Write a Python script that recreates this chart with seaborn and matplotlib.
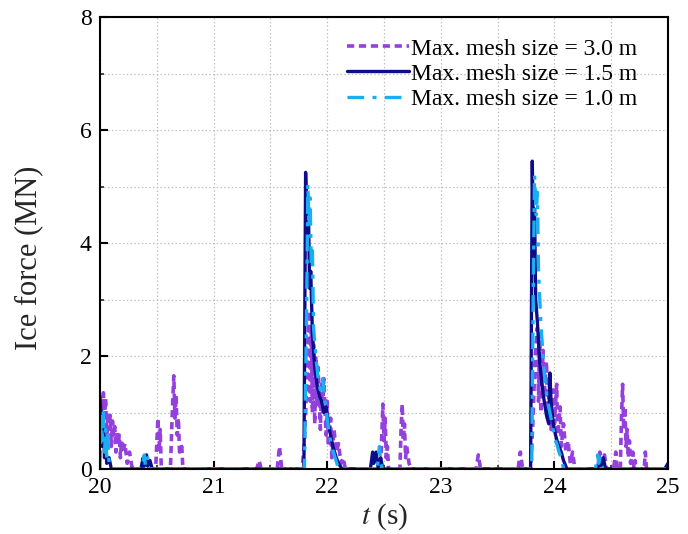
import numpy as np
import pandas as pd
import matplotlib
matplotlib.use("Agg")
import matplotlib.pyplot as plt
import seaborn as sns
from matplotlib.ticker import MultipleLocator

# ---- data ----
t_30 = [20.00, 20.01, 20.02, 20.03, 20.04, 20.05, 20.06, 20.07, 20.08, 20.09, 20.10, 20.11, 20.12, 20.13,
        20.14, 20.15, 20.16, 20.17, 20.18, 20.19, 20.20, 20.22, 20.24, 20.26, 20.28, 20.30,
        20.49, 20.51, 20.52, 20.53, 20.54, 20.62, 20.64, 20.65, 20.66, 20.67, 20.68, 20.69, 20.70, 20.72, 20.73,
        21.38, 21.40, 21.42, 21.56, 21.58, 21.60,
        21.78, 21.80, 21.82, 21.84, 21.85, 21.86, 21.87, 21.88, 21.89, 21.90, 21.91, 21.92, 21.94, 21.95,
        21.96, 21.97, 21.99, 22.00, 22.01, 22.03, 22.04, 22.06, 22.08, 22.10, 22.12, 22.14, 22.16,
        22.47, 22.48, 22.49, 22.50, 22.51, 22.52, 22.53, 22.54, 22.64, 22.65, 22.66, 22.67, 22.68, 22.69,
        22.70, 22.72, 22.74,
        23.31, 23.33, 23.35, 23.68, 23.70, 23.72,
        23.79, 23.81, 23.83, 23.85, 23.86, 23.87, 23.88, 23.90, 23.91, 23.93, 23.94, 23.96, 23.97, 23.99,
        24.00, 24.02, 24.03, 24.05, 24.06, 24.08, 24.10, 24.12, 24.14, 24.16, 24.18,
        24.38, 24.40, 24.42, 24.44, 24.46, 24.52, 24.54, 24.55, 24.58, 24.59, 24.60, 24.61, 24.62, 24.63,
        24.64, 24.65, 24.66, 24.67, 24.69, 24.70, 24.71, 24.72, 24.79, 24.80, 24.81, 25.00]
f_30 = [0.20, 1.20, 0.60, 1.35, 0.90, 1.25, 0.50, 1.00, 0.70, 0.95, 0.40, 0.85, 0.60, 0.75,
        0.30, 0.65, 0.45, 0.60, 0.20, 0.50, 0.30, 0.45, 0.10, 0.30, 0.05, 0.00,
        0.00, 0.90, 0.30, 0.70, 0.00, 0.00, 1.20, 1.65, 0.90, 1.30, 0.60, 0.90, 0.30, 0.40, 0.00,
        0.00, 0.15, 0.00, 0.00, 0.40, 0.00,
        0.00, 0.50, 1.50, 2.80, 1.20, 2.50, 1.00, 2.20, 0.80, 2.00, 1.10, 1.80, 0.70, 1.50,
        1.00, 1.60, 0.60, 1.20, 0.40, 0.90, 0.20, 0.70, 0.30, 0.45, 0.10, 0.20, 0.00,
        0.00, 0.60, 1.15, 0.50, 0.90, 0.20, 0.40, 0.00, 0.00, 0.70, 1.15, 0.50, 0.80, 0.20,
        0.40, 0.10, 0.00,
        0.00, 0.25, 0.00, 0.00, 0.30, 0.00,
        0.00, 0.80, 2.00, 2.50, 1.20, 2.40, 1.00, 2.10, 1.30, 1.90, 0.90, 1.60, 0.70, 1.40,
        0.80, 1.50, 0.60, 1.10, 0.40, 0.80, 0.30, 0.50, 0.10, 0.30, 0.00,
        0.00, 0.30, 0.10, 0.25, 0.00, 0.00, 0.30, 0.00, 0.00, 0.90, 1.50, 0.70, 1.10, 0.40,
        0.70, 0.20, 0.50, 0.10, 0.30, 0.00, 0.15, 0.00, 0.00, 0.30, 0.00, 0.00]

t_15 = [20.00, 20.01, 20.02, 20.03, 20.04, 20.05, 20.06, 20.08, 20.10,
        20.36, 20.38, 20.39, 20.41, 20.42, 20.44, 20.46,
        21.795, 21.81, 21.825, 21.835, 21.845, 21.855, 21.87, 21.89, 21.91, 21.93, 21.95, 21.97, 21.99,
        22.01, 22.03, 22.05, 22.08, 22.10, 22.13,
        22.38, 22.40, 22.41, 22.43, 22.45, 22.47, 22.49,
        23.79, 23.805, 23.815, 23.825, 23.835, 23.85, 23.87, 23.89, 23.91, 23.93, 23.95, 23.96, 23.97,
        23.99, 24.01, 24.03, 24.06, 24.08, 24.11,
        24.38, 24.40, 24.41, 24.43, 24.45, 24.97, 25.00]
f_15 = [1.30, 0.90, 0.40, 0.80, 0.20, 0.50, 0.10, 0.20, 0.00,
        0.00, 0.20, 0.05, 0.25, 0.05, 0.15, 0.00,
        0.00, 5.25, 4.20, 4.60, 3.20, 3.50, 2.40, 1.80, 1.50, 1.30, 1.20, 1.00, 1.10,
        0.80, 0.60, 0.40, 0.20, 0.10, 0.00,
        0.00, 0.30, 0.10, 0.30, 0.00, 0.20, 0.00,
        0.00, 5.45, 4.00, 4.60, 3.00, 2.60, 1.90, 1.50, 1.20, 0.95, 0.80, 1.70, 1.20,
        0.80, 0.60, 0.45, 0.30, 0.15, 0.00,
        0.00, 0.20, 0.05, 0.20, 0.00, 0.00, 0.10]

t_10 = [20.00, 20.01, 20.02, 20.03, 20.04, 20.05, 20.06, 20.07, 20.08, 20.10,
        20.37, 20.39, 20.40, 20.42, 20.44,
        21.80, 21.82, 21.83, 21.84, 21.85, 21.86, 21.87, 21.88, 21.90, 21.92, 21.94, 21.96, 21.98,
        22.00, 22.02, 22.04, 22.07, 22.10,
        22.44, 22.46, 22.47, 22.49,
        23.80, 23.815, 23.825, 23.84, 23.85, 23.86, 23.88, 23.90, 23.92, 23.94, 23.96, 23.98,
        24.00, 24.02, 24.04, 24.06, 24.08,
        24.36, 24.38, 24.39, 24.40, 24.42, 25.00]
f_10 = [0.00, 1.00, 0.50, 1.00, 0.30, 0.70, 0.20, 0.60, 0.10, 0.00,
        0.00, 0.25, 0.05, 0.20, 0.00,
        0.00, 3.00, 5.05, 4.30, 4.80, 3.60, 3.90, 2.50, 2.00, 1.60, 1.40, 1.60, 1.20,
        0.90, 0.60, 0.40, 0.20, 0.00,
        0.00, 0.40, 0.10, 0.00,
        0.00, 3.50, 5.20, 4.50, 4.90, 3.50, 2.60, 2.00, 1.50, 1.20, 1.00, 0.80,
        0.55, 0.45, 0.30, 0.20, 0.00,
        0.00, 0.25, 0.10, 0.20, 0.00, 0.00]

labels = ["Max. mesh size = 3.0 m", "Max. mesh size = 1.5 m", "Max. mesh size = 1.0 m"]
x_ticks = [20, 21, 22, 23, 24, 25]
y_ticks = [0, 2, 4, 6, 8]

# ---- style ----
sns.set_theme(style="white")
plt.rcParams["font.family"] = ["Liberation Serif", "DejaVu Serif"]
plt.rcParams["mathtext.fontset"] = "stix"

fig = plt.figure(figsize=(6.88, 5.34), dpi=100)
ax = fig.add_axes([0.1453, 0.1217, 0.8257, 0.8463])

colors = ["#9440DD", "#0D0D8A", "#1AAEEF"]
styles = [(0, (2.0, 1.3)), "-", (0, (5.0, 2.5, 1.2, 2.5))]
widths = [2.6, 2.4, 2.4]
series = [(t_30, f_30), (t_15, f_15), (t_10, f_10)]

for (tt, ff), lab, c, ls, lw in zip(series, labels, colors, styles, widths):
    df = pd.DataFrame({"t": tt, "F": ff})
    sns.lineplot(data=df, x="t", y="F", ax=ax, sort=False, estimator=None,
                 color=c, linestyle=ls, linewidth=lw, label=lab)

ax.set_xlim(20, 25)
ax.set_ylim(0, 8)
ax.set_xticks(x_ticks)
ax.set_yticks(y_ticks)
ax.xaxis.set_minor_locator(MultipleLocator(0.5))
ax.yaxis.set_minor_locator(MultipleLocator(1))
ax.grid(True, which="both", linestyle=(0, (1.2, 1.8)), color="#c0c0c0", linewidth=0.9)
ax.tick_params(which="major", direction="in", length=6, width=1.5, labelsize=17,
               bottom=True, left=True, top=False, right=False, colors="black", pad=6)
ax.tick_params(which="minor", direction="in", length=3, width=1.2,
               bottom=True, left=True, top=False, right=False)
for sp in ax.spines.values():
    sp.set_color("black")
    sp.set_linewidth(1.5)

ax.set_xlabel("$t$ (s)", fontsize=21, labelpad=2)
ax.set_ylabel("Ice force (MN)", fontsize=22)
ax.yaxis.set_label_coords(-0.10, 0.467)

leg = ax.legend(loc="upper right", frameon=False, fontsize=17, handlelength=2.6,
                handletextpad=0.1, labelspacing=0.15, borderaxespad=0.3,
                bbox_to_anchor=(0.975, 0.99))
for txt in leg.get_texts():
    txt.set_color("black")

fig.savefig("out.png", dpi=100)
